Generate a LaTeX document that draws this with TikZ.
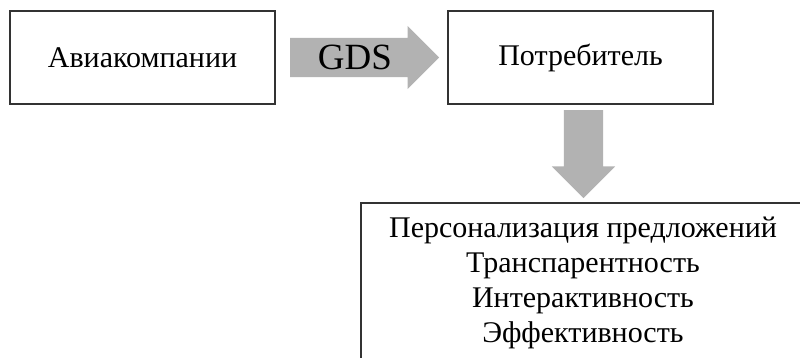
\documentclass[tikz,border=0pt]{standalone}
\usepackage{fontspec}
\setmainfont{Liberation Serif}
\usetikzlibrary{positioning,shapes.arrows}

\tikzset{
    box/.style={draw=black!80, line width=1.5pt, minimum width=265pt, minimum height=93pt, font=\fontsize{30}{35}\selectfont},
    blockarrow/.style={single arrow, fill=black!30, inner sep=0pt, single arrow head extend=12pt, single arrow tip angle=90},
}

\begin{document}
\begin{tikzpicture}[x=1pt, y=1pt]
        \useasboundingbox (0,0) rectangle (800,-358);
        \clip (0,0) rectangle (800,-358);

        % boxes
        \node[box] (avia) at (142.5,-57.5) {Авиакомпании};
        \node[box] (consumer) at (580.5,-57.5) {Потребитель};

        % arrows
        \node[blockarrow, anchor=west, minimum height=149pt, minimum width=63pt, text height=31.5pt, text depth=7.5pt, font=\fontsize{37}{40}\selectfont] (gds) at (290,-57.5) {GDS};
        \node[blockarrow, anchor=tail, minimum height=88pt, minimum width=63pt, inner xsep=19.5pt, shape border rotate=270] (down) at (583.5,-110) {};

        % result
        \draw[draw=black!80, line width=1.5pt] (361,-203) rectangle (900,-420);
        \node[anchor=north, align=center, font=\fontsize{30}{35}\selectfont] (props) at (583,-213) {Персонализация предложений\\Транспарентность\\Интерактивность\\Эффективность};
    \end{tikzpicture}
\end{document}
